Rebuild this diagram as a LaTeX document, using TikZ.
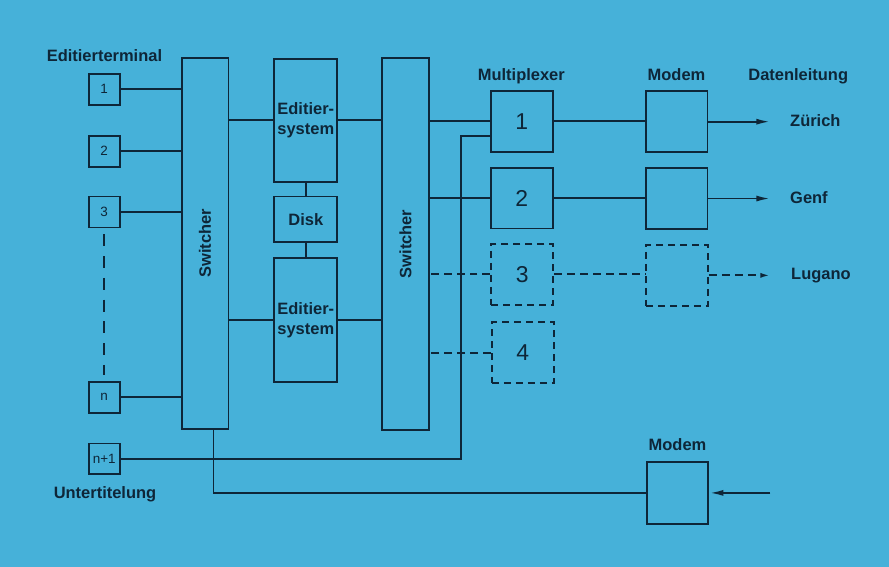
\documentclass[tikz,border=0pt]{standalone}
\usepackage{fontspec}
\setmainfont{Liberation Sans}
\usetikzlibrary{arrows.meta}
\definecolor{bgblue}{RGB}{70,177,217}
\definecolor{ink}{RGB}{14,38,56}
\begin{document}
\begin{tikzpicture}[x=1pt,y=-1pt,
  every path/.style={line width=1.9pt,draw=ink},
  blk/.style={draw=ink,line width=1.9pt,inner sep=0pt,text=ink},
  term/.style={blk,minimum width=31pt,minimum height=31pt,font=\fontsize{13.5}{15}\selectfont},
  sqbox/.style={blk,minimum width=62pt,minimum height=61pt,font=\fontsize{23}{24}\selectfont},
  dbox/.style={dash pattern=on 7pt off 5pt},
  lbl/.style={text=ink,inner sep=0pt,font=\bfseries\fontsize{16.5}{20}\selectfont},
  dline/.style={dash pattern=on 8pt off 5pt},
  arr/.style={-{Latex[length=14pt,width=6pt]}}
]
\useasboundingbox (0,0) rectangle (889,566);
\fill[bgblue] (0,0) rectangle (889,566);

% terminals
\node[term] (t1) at (103.5,88.5) {1};
\node[term] (t2) at (103.5,150.5) {2};
\node[term] (t3) at (103.5,211.5) {3};
\node[term] (tn) at (103.5,397) {n};
\node[term] (tn1) at (103.5,459) {n+1};

% switchers
\node[blk,minimum width=47pt,minimum height=372pt] (sw1) at (204.5,243) {};
\node[lbl,rotate=90] at (sw1.center) {Switcher};
\node[blk,minimum width=47pt,minimum height=373pt] (sw2) at (405.5,243.5) {};
\node[lbl,rotate=90] at (sw2.center) {Switcher};

% edit systems and disk
\node[blk,minimum width=63pt,minimum height=123pt] (ed1) at (305.5,119.5) {};
\node[lbl,align=center] at (ed1.center) {Editier-\\system};
\node[blk,minimum width=63pt,minimum height=46pt] (disk) at (305.5,219) {};
\node[lbl] at (disk.center) {Disk};
\node[blk,minimum width=63pt,minimum height=124pt] (ed2) at (305.5,320) {};
\node[lbl,align=center] at (ed2.center) {Editier-\\system};

% multiplexers
\node[sqbox] (m1) at (522,120.5) {1};
\node[sqbox] (m2) at (522,197.5) {2};
\node[sqbox,dbox] (m3) at (522.5,274) {3};
\node[sqbox,dbox] (m4) at (523,352.5) {4};

% modems
\node[sqbox] (d1) at (677,121) {};
\node[sqbox] (d2) at (677,198) {};
\node[sqbox,dbox] (d3) at (677.5,275) {};
\node[sqbox,minimum height=62pt] (db) at (678,493) {};

% labels
\node[lbl,anchor=base west] (lterm) at (45,61) {Editierterminal};
\node[lbl,anchor=base west] (lunt) at (52,499) {Untertitelung};
\node[lbl,anchor=base] (lmux) at (521.5,80) {Multiplexer};
\node[lbl,anchor=base] (lmod) at (677,80) {Modem};
\node[lbl,anchor=base] (ldat) at (799,80) {Datenleitung};
\node[lbl,anchor=base] (lmodb) at (678,451) {Modem};
\node[lbl,anchor=west] (zh) at (790,120) {Zürich};
\node[lbl,anchor=west] (ge) at (790,197.5) {Genf};
\node[lbl,anchor=west] (lu) at (791,275) {Lugano};

% terminal connections
\draw (t1.east) -- (t1.east -| sw1.west);
\draw (t2.east) -- (t2.east -| sw1.west);
\draw (t3.east) -- (t3.east -| sw1.west);
\draw (tn.east) -- (tn.east -| sw1.west);
\draw[dash pattern=on 12pt off 9.8pt] ([yshift=-6pt]t3.south) -- ([yshift=6pt]tn.north);

% switcher 1 <-> edit systems
\draw (ed1.west) -- (ed1.west -| sw1.east);
\draw (ed2.west) -- (ed2.west -| sw1.east);
\draw (ed1.south) -- (disk.north);
\draw (disk.south) -- (ed2.north);
\draw (ed1.east) -- (ed1.east -| sw2.west);
\draw (ed2.east) -- (ed2.east -| sw2.west);

% switcher 2 -> multiplexers
\draw (m1.west) -- (m1.west -| sw2.east);
\draw (m2.west) -- (m2.west -| sw2.east);
\draw[dline] (m3.west) -- (m3.west -| sw2.east);
\draw[dline] (m4.west) -- (m4.west -| sw2.east);

% subtitle line to multiplexer 1
\coordinate (j) at (461,135);
\draw (tn1.east) -| (j) -- (j -| m1.west);

% multiplexers -> modems
\draw (m1.east) -- (m1.east -| d1.west);
\draw (m2.east) -- (m2.east -| d2.west);
\draw[dline] (m3.east) -- (m3.east -| d3.west);

% modems -> lines
\coordinate (e1) at (771,121);
\coordinate (e2) at (771,198);
\coordinate (e3) at (771,275);
\draw[arr] (d1.east) -- (e1);
\draw[arr] (d2.east) -- (e2);
\draw[dline,-{Latex[length=10pt,width=5pt]}] (d3.east) -- (e3);

% bottom modem
\draw ([xshift=8.5pt]sw1.south) |- (db.west);
\coordinate (eb) at (771,493);
\draw[arr] (eb) -- (db.east);
\end{tikzpicture}
\end{document}
